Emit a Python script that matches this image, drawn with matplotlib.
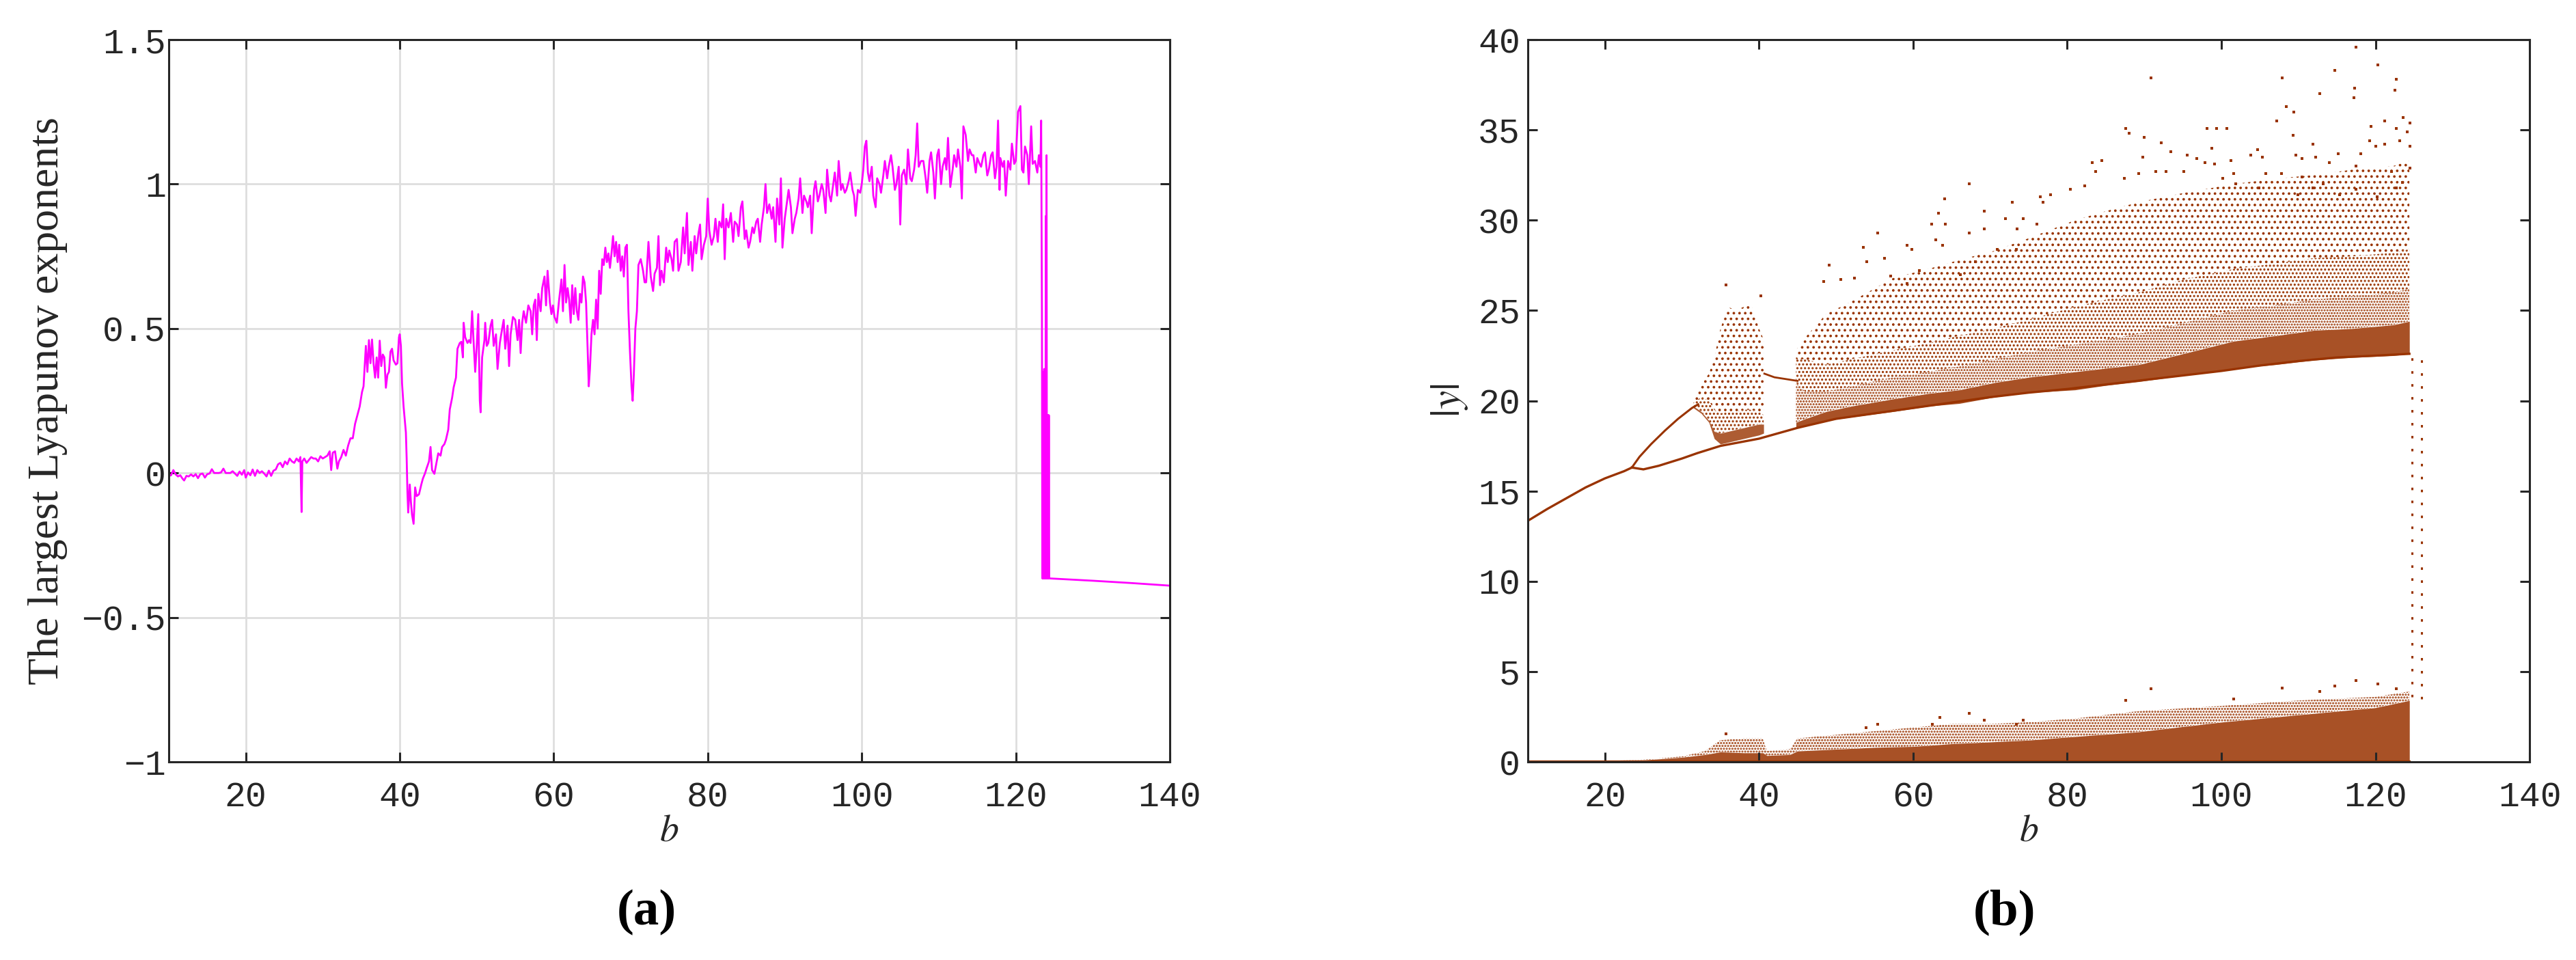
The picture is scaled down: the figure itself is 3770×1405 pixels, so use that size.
"""
Two-panel figure: (a) largest Lyapunov exponent vs b, (b) bifurcation diagram |y| vs b.
Values read off the reference picture by eye.
"""
import numpy as np
import matplotlib
matplotlib.use("Agg")
import matplotlib.pyplot as plt

MAGENTA = '#ff00ff'
BROWN = '#993300'
SPINE = '#262626'
GRID = '#dedede'

# ---------------------------------------------------------------------------
# (a) largest Lyapunov exponent
# ---------------------------------------------------------------------------
lyap_b = [
    10.0, 10.3, 10.6, 10.9, 11.2, 11.5, 11.8, 12.0, 12.3, 12.6,
    12.9, 13.2, 13.5, 13.8, 14.1, 14.4, 14.7, 15.0, 15.3, 15.6,
    15.9, 16.2, 16.5, 16.8, 17.1, 17.4, 17.7, 18.0, 18.3, 18.6,
    18.9, 19.2, 19.5, 19.8, 20.0, 20.3, 20.6, 20.9, 21.2, 21.5,
    21.8, 22.1, 22.4, 22.7, 23.0, 23.3, 23.6, 23.9, 24.2, 24.5,
    24.8, 25.1, 25.4, 25.7, 26.0, 26.3, 26.6, 26.9, 27.1, 27.25,
    27.35, 27.6, 27.9, 28.2, 28.5, 28.8, 29.1, 29.4, 29.7, 30.0,
    30.3, 30.6, 30.9, 31.1, 31.3, 31.6, 31.9, 32.1, 32.4, 32.7,
    33.0, 33.3, 33.6, 33.9, 34.2, 34.5, 34.8, 35.1, 35.3, 35.6,
    35.8, 36.0, 36.2, 36.4, 36.6, 36.8, 37.0, 37.2, 37.4, 37.6,
    37.8, 38.0, 38.2, 38.4, 38.6, 38.8, 39.0, 39.2, 39.5, 39.7,
    39.9, 40.0, 40.15, 40.3, 40.5, 40.8, 40.9, 41.0, 41.1, 41.3,
    41.45, 41.6, 41.8, 42.0, 42.2, 42.5, 42.8, 43.0, 43.3, 43.5,
    43.8, 44.0, 44.2, 44.5, 44.8, 45.0, 45.3, 45.5, 45.8, 46.0,
    46.3, 46.5, 46.8, 47.0, 47.3, 47.5, 47.8, 48.0, 48.2, 48.3,
    48.5, 48.8, 49.0, 49.2, 49.4, 49.6, 49.8, 50.0, 50.2, 50.4,
    50.5, 50.7, 51.0, 51.1, 51.3, 51.5, 51.8, 52.0, 52.2, 52.5,
    52.7, 53.0, 53.3, 53.5, 53.7, 54.0, 54.2, 54.4, 54.7, 55.0,
    55.3, 55.5, 55.7, 55.9, 56.1, 56.4, 56.7, 57.0, 57.2, 57.4,
    57.6, 57.8, 58.0, 58.3, 58.5, 58.8, 59.0, 59.2, 59.5, 59.7,
    59.9, 60.1, 60.4, 60.7, 61.0, 61.2, 61.4, 61.6, 61.8, 62.0,
    62.2, 62.4, 62.6, 62.8, 63.0, 63.2, 63.4, 63.6, 63.8, 64.0,
    64.2, 64.4, 64.55, 64.7, 64.9, 65.1, 65.3, 65.5, 65.7, 65.9,
    66.1, 66.3, 66.5, 66.7, 66.9, 67.1, 67.3, 67.5, 67.7, 67.9,
    68.1, 68.3, 68.5, 68.7, 68.9, 69.1, 69.3, 69.5, 69.7, 69.9,
    70.1, 70.25, 70.4, 70.6, 70.8, 71.0, 71.3, 71.6, 71.8, 72.0,
    72.3, 72.6, 72.9, 73.1, 73.4, 73.6, 73.8, 74.0, 74.3, 74.6,
    74.8, 75.0, 75.3, 75.5, 75.7, 76.0, 76.2, 76.5, 76.8, 77.0,
    77.3, 77.5, 77.8, 78.0, 78.3, 78.5, 78.8, 79.0, 79.2, 79.5,
    79.8, 80.0, 80.2, 80.5, 80.8, 81.0, 81.3, 81.5, 81.8, 82.0,
    82.2, 82.4, 82.7, 83.0, 83.3, 83.5, 83.8, 84.0, 84.3, 84.5,
    84.8, 85.0, 85.3, 85.5, 85.8, 86.0, 86.3, 86.5, 86.8, 87.0,
    87.3, 87.5, 87.7, 88.0, 88.3, 88.5, 88.8, 89.0, 89.3, 89.5,
    89.7, 90.0, 90.3, 90.5, 90.8, 91.0, 91.3, 91.5, 91.8, 92.0,
    92.3, 92.5, 92.8, 93.0, 93.3, 93.5, 93.8, 94.0, 94.3, 94.5,
    94.8, 95.0, 95.3, 95.5, 95.8, 96.0, 96.3, 96.5, 96.8, 97.0,
    97.3, 97.5, 97.8, 98.0, 98.3, 98.5, 98.8, 99.0, 99.2, 99.5,
    99.8, 100.0, 100.2, 100.4, 100.6, 100.8, 101.0, 101.3, 101.5, 101.8,
    102.0, 102.3, 102.5, 102.8, 103.0, 103.3, 103.5, 103.8, 104.0, 104.3,
    104.5, 104.8, 105.0, 105.2, 105.5, 105.8, 106.0, 106.3, 106.5, 106.8,
    107.0, 107.2, 107.4, 107.7, 108.0, 108.3, 108.5, 108.8, 109.0, 109.3,
    109.5, 109.8, 110.0, 110.3, 110.5, 110.8, 111.0, 111.2, 111.5, 111.8,
    112.0, 112.3, 112.5, 112.8, 113.0, 113.2, 113.5, 113.8, 114.0, 114.3,
    114.5, 114.8, 115.0, 115.3, 115.5, 115.8, 116.0, 116.3, 116.5, 116.8,
    117.0, 117.3, 117.5, 117.7, 117.9, 118.0, 118.3, 118.5, 118.7, 119.0,
    119.3, 119.5, 119.8, 120.0, 120.3, 120.6, 120.8, 121.0, 121.2, 121.5,
    121.7, 122.0, 122.2, 122.5, 122.8, 123.0, 123.2, 123.3, 123.4, 123.45,
    123.5, 123.55, 123.6, 123.65, 123.7, 123.75, 123.8, 123.85, 123.9, 123.95,
    124.0, 124.05, 124.1, 124.15, 124.2, 124.25, 124.3, 124.35, 124.4, 130.0,
    135.0, 140.0,
]
lyap_val = [
    -0.010, -0.008, 0.010, -0.005, -0.012, -0.008, -0.020, -0.026, -0.010, -0.012,
    -0.005, -0.012, -0.004, -0.018, -0.004, -0.002, -0.016, -0.004, -0.002, 0.013,
    0.000, 0.000, 0.000, 0.002, 0.015, 0.000, 0.000, 0.000, 0.006, -0.002,
    -0.010, 0.005, -0.006, 0.010, -0.016, 0.002, -0.008, 0.012, -0.010, 0.010,
    0.000, 0.006, -0.002, -0.012, 0.008, -0.010, 0.008, 0.012, 0.030, 0.035,
    0.020, 0.040, 0.030, 0.050, 0.040, 0.035, 0.050, 0.040, 0.055, -0.135,
    0.040, 0.050, 0.035, 0.045, 0.055, 0.050, 0.050, 0.040, 0.058, 0.050,
    0.055, 0.060, 0.075, 0.010, 0.070, 0.075, 0.015, 0.040, 0.055, 0.080,
    0.060, 0.095, 0.120, 0.120, 0.170, 0.200, 0.230, 0.280, 0.300, 0.440,
    0.350, 0.460, 0.380, 0.462, 0.380, 0.330, 0.400, 0.330, 0.458, 0.370,
    0.410, 0.400, 0.295, 0.340, 0.350, 0.420, 0.430, 0.390, 0.375, 0.380,
    0.470, 0.480, 0.440, 0.310, 0.230, 0.140, 0.050, -0.066, -0.137, -0.040,
    -0.100, -0.145, -0.176, -0.050, -0.080, -0.074, -0.040, -0.020, 0.000, 0.017,
    0.040, 0.090, 0.010, -0.003, 0.040, 0.068, 0.060, 0.090, 0.100, 0.115,
    0.150, 0.220, 0.260, 0.296, 0.330, 0.430, 0.450, 0.454, 0.400, 0.520,
    0.470, 0.450, 0.460, 0.450, 0.560, 0.450, 0.350, 0.440, 0.550, 0.250,
    0.210, 0.400, 0.460, 0.520, 0.440, 0.450, 0.510, 0.530, 0.440, 0.480,
    0.360, 0.450, 0.500, 0.530, 0.430, 0.510, 0.370, 0.480, 0.540, 0.530,
    0.460, 0.530, 0.415, 0.520, 0.560, 0.520, 0.580, 0.560, 0.480, 0.580,
    0.600, 0.460, 0.620, 0.560, 0.640, 0.680, 0.580, 0.700, 0.590, 0.550,
    0.580, 0.540, 0.520, 0.600, 0.670, 0.560, 0.720, 0.590, 0.640, 0.600,
    0.520, 0.650, 0.550, 0.640, 0.560, 0.530, 0.620, 0.590, 0.680, 0.660,
    0.590, 0.430, 0.300, 0.360, 0.480, 0.530, 0.480, 0.600, 0.500, 0.700,
    0.620, 0.740, 0.720, 0.780, 0.730, 0.760, 0.710, 0.760, 0.820, 0.750,
    0.800, 0.730, 0.790, 0.700, 0.750, 0.680, 0.780, 0.790, 0.560, 0.420,
    0.300, 0.250, 0.340, 0.500, 0.560, 0.720, 0.740, 0.700, 0.660, 0.660,
    0.800, 0.680, 0.630, 0.690, 0.710, 0.820, 0.650, 0.700, 0.660, 0.780,
    0.730, 0.770, 0.740, 0.700, 0.800, 0.810, 0.700, 0.730, 0.850, 0.760,
    0.900, 0.720, 0.800, 0.700, 0.820, 0.760, 0.830, 0.860, 0.740, 0.790,
    0.820, 0.950, 0.840, 0.790, 0.820, 0.880, 0.800, 0.870, 0.850, 0.930,
    0.740, 0.880, 0.850, 0.900, 0.800, 0.870, 0.860, 0.820, 0.920, 0.940,
    0.810, 0.840, 0.780, 0.800, 0.850, 0.830, 0.870, 0.880, 0.800, 0.860,
    0.920, 1.000, 0.900, 0.930, 0.880, 0.920, 0.800, 0.950, 0.860, 1.020,
    0.780, 0.880, 0.940, 0.980, 0.920, 0.830, 0.880, 0.900, 0.950, 1.020,
    0.900, 0.960, 0.940, 0.920, 0.960, 0.830, 0.980, 1.010, 0.940, 0.960,
    1.000, 0.980, 0.900, 1.050, 0.960, 0.940, 1.000, 1.040, 0.960, 1.080,
    0.980, 1.000, 0.970, 0.980, 1.010, 1.040, 0.980, 0.960, 0.890, 0.980,
    0.970, 1.000, 1.050, 1.130, 1.150, 1.040, 1.010, 1.060, 0.960, 0.920,
    1.020, 1.000, 0.970, 1.030, 1.080, 1.020, 1.060, 1.100, 1.060, 0.980,
    1.000, 1.060, 0.860, 1.030, 1.050, 1.000, 1.120, 1.020, 1.010, 1.050,
    1.100, 1.210, 1.060, 1.080, 1.080, 1.020, 0.970, 1.080, 1.110, 1.040,
    0.950, 1.100, 1.120, 1.000, 1.060, 1.090, 1.050, 1.160, 0.990, 1.050,
    1.100, 1.060, 1.120, 1.060, 0.950, 1.200, 1.170, 1.080, 1.120, 1.100,
    1.100, 1.040, 1.090, 1.070, 1.060, 1.100, 1.110, 1.030, 1.050, 1.100,
    1.110, 1.020, 1.060, 1.220, 0.980, 1.090, 1.060, 1.080, 0.960, 1.080,
    1.050, 1.140, 1.070, 1.080, 1.250, 1.270, 1.050, 1.040, 1.130, 1.100,
    1.000, 1.200, 1.070, 1.080, 1.040, 1.100, 1.060, 1.220, 0.550, -0.365,
    0.350, -0.365, 0.330, -0.365, 0.360, -0.365, 0.300, -0.365, 0.890, -0.365,
    1.100, -0.365, 0.200, -0.365, 0.200, -0.365, 0.200, -0.365, -0.365, -0.373,
    -0.381, -0.390,
]

lyap_yticks = [-1, -0.5, 0, 0.5, 1, 1.5]
lyap_yticklabels = ['\u22121', '\u22120.5', '0', '0.5', '1', '1.5']
b_ticks = [20, 40, 60, 80, 100, 120, 140]

# ---------------------------------------------------------------------------
# (b) bifurcation diagram, |y|
# ---------------------------------------------------------------------------
# single branch before the first split, then the two branches
main_b = [10, 12.5, 15, 17.5, 20, 22.5, 23.5]
main_y = [13.35, 14.0, 14.6, 15.2, 15.7, 16.1, 16.3]
upper_b = [23.5, 24.5, 26, 27.8, 29.5, 31.3, 32.1]
upper_y = [16.3, 16.9, 17.6, 18.35, 19.0, 19.6, 19.8]
branch_b = [23.5, 25, 27, 30, 32, 35, 40, 45, 50, 55, 60, 65, 70, 75, 80,
            85, 90, 95, 100, 105, 110, 115, 120, 124.4]
branch_y = [16.3, 16.2, 16.4, 16.8, 17.1, 17.5, 17.9, 18.5, 19.0, 19.3, 19.6,
            19.9, 20.2, 20.45, 20.65, 20.9, 21.15, 21.4, 21.65, 21.95, 22.2,
            22.4, 22.5, 22.6]
# short period window between the two chaotic clouds
window_b = [40.7, 42, 43.5, 45]
window_y = [21.5, 21.3, 21.2, 21.1]

# first chaotic cloud: lower edge, dense part, medium part, top
cloud1_b = [31.5, 32.5, 33.5, 34.2, 35.0, 36.0, 37.0, 38.0, 39.0, 40.0, 40.6]
cloud1_lo = [19.6, 19.3, 18.8, 17.9, 17.6, 17.7, 17.8, 17.9, 18.0, 18.1, 18.2]
cloud1_dense = [19.7, 19.4, 18.9, 18.3, 18.2, 18.3, 18.4, 18.5, 18.6, 18.7, 18.7]
cloud1_med = [19.9, 20.2, 20.0, 19.5, 19.3, 19.4, 19.4, 19.5, 19.5, 19.4, 19.2]
cloud1_top = [20.0, 20.9, 21.5, 22.4, 24.0, 25.2, 25.0, 25.2, 25.3, 24.0, 23.4]

# main chaotic cloud, four density bands stacked above the lower edge
cloud2_b = [44.8, 46, 48.7, 52, 57.4, 62, 66, 70.5, 75, 81, 85, 89.3, 95,
            101.6, 107, 112, 117, 122.3, 124.4]
cloud2_lo = [18.5, 18.6, 18.9, 19.1, 19.4, 19.7, 19.85, 20.2, 20.45, 20.6,
             20.85, 21.06, 21.4, 21.8, 22.0, 22.25, 22.4, 22.5, 22.6]
cloud2_dense = [18.8, 19.0, 19.4, 19.7, 20.1, 20.4, 20.6, 21.0, 21.3, 21.6,
                21.8, 22.0, 22.6, 23.3, 23.6, 23.9, 24.0, 24.2, 24.4]
cloud2_mid1 = [21.0, 20.5, 20.5, 20.8, 21.3, 21.6, 21.9, 22.3, 22.7, 23.1,
               23.4, 23.7, 24.3, 25.0, 25.3, 25.6, 25.8, 26.0, 26.2]
cloud2_mid2 = [22.3, 22.3, 22.0, 22.3, 22.8, 23.2, 23.6, 24.0, 24.5, 25.2,
               25.6, 26.0, 26.7, 27.3, 27.6, 27.9, 28.0, 28.2, 28.4]
cloud2_top = [22.8, 23.5, 24.8, 25.5, 26.8, 27.3, 27.8, 28.3, 29.0, 30.0,
              30.5, 31.0, 31.5, 32.0, 32.3, 32.5, 32.8, 33.0, 33.3]

# band near |y| = 0
low_b = [10, 20, 25, 30, 33, 35, 38, 40.5, 41, 44, 45, 50, 55, 60, 65, 70,
         75, 81, 89, 100, 110, 120, 124.4]
low_dense = [0.03, 0.05, 0.1, 0.25, 0.4, 0.55, 0.5, 0.5, 0.35, 0.4, 0.6,
             0.7, 0.8, 0.85, 1.0, 1.1, 1.2, 1.4, 1.65, 2.2, 2.6, 3.0, 3.4]
low_med = [0.03, 0.05, 0.12, 0.3, 0.6, 1.2, 1.3, 1.3, 0.6, 0.7, 1.3, 1.5,
           1.7, 1.9, 2.1, 2.1, 2.2, 2.4, 2.8, 3.1, 3.4, 3.6, 3.9]

# isolated points
stray_b = [
    90.9, 107.9, 117.5, 120.3, 114.7, 122.7, 122.5, 117.3, 117.2, 112.8,
    108.4, 109.4, 107.2, 87.6, 88.0, 90.0, 98.1, 99.4, 100.7, 121.2,
    119.4, 123.6, 124.5, 122.7, 124.1, 109.3, 111.9, 119.2, 121.2, 123.1,
    124.5, 98.8, 103.8, 104.7, 105.3, 89.8, 92.2, 93.4, 95.6, 109.7,
    110.5, 112.2, 115.2, 118.1, 120.0, 83.2, 84.5, 83.7, 96.8, 97.9,
    99.1, 101.2, 101.6, 107.8, 82.3, 80.4, 76.9, 77.8, 87.4, 89.3,
    91.5, 92.8, 95.1, 105.8, 110.5, 114.0, 117.5, 124.5, 122.7, 123.5,
    122.1, 120.2, 117.5, 115.3, 113.2, 111.9, 109.9, 104.9, 101.9, 100.2,
    67.3, 64.1, 69.2, 63.3, 62.4, 64.2, 55.4, 59.2, 59.8, 53.5,
    54.0, 56.3, 62.9, 63.8, 72.0, 74.3, 72.9, 76.5, 76.1, 73.5,
    67.3, 69.2, 57.1, 60.8, 59.2, 49.1, 50.6, 52.4, 48.4, 35.7,
    40.2, 66.1, 68.1, 70.9, 73.4,
    90.9, 107.9, 117.5, 120.3, 114.7, 122.7, 112.8, 101.6, 87.6, 67.3,
    69.2, 63.5, 55.4, 53.9, 62.5, 35.7, 73.4, 74.3,
]
stray_y = [
    37.9, 37.9, 39.6, 38.6, 38.3, 37.8, 37.2, 37.3, 36.8, 37.0,
    36.3, 36.0, 35.5, 35.1, 34.8, 34.6, 35.1, 35.1, 35.1, 35.5,
    35.2, 35.7, 35.4, 35.1, 34.9, 34.7, 34.2, 34.4, 34.2, 34.4,
    34.1, 34.0, 33.6, 33.9, 33.5, 33.5, 34.3, 33.8, 33.6, 33.6,
    33.4, 33.5, 33.7, 33.7, 34.1, 33.2, 33.3, 32.7, 33.4, 33.2,
    33.1, 33.3, 32.6, 32.6, 31.9, 31.7, 31.0, 31.4, 32.3, 32.6,
    32.7, 32.7, 32.7, 32.6, 32.4, 33.2, 33.0, 32.9, 31.8, 32.1,
    32.7, 31.3, 31.7, 31.4, 32.0, 31.8, 31.4, 31.8, 32.0, 32.3,
    32.0, 31.2, 30.5, 30.4, 29.8, 29.8, 29.3, 28.6, 28.4, 28.5,
    27.7, 27.9, 28.9, 28.6, 30.1, 30.1, 31.0, 31.3, 29.8, 29.5,
    29.3, 29.5, 26.9, 27.2, 26.5, 27.5, 26.7, 26.8, 26.6, 26.4,
    25.8, 27.0, 27.7, 28.4, 28.4,
    4.06, 4.1, 4.5, 4.3, 4.2, 4.06, 3.9, 3.5, 3.4, 2.7,
    2.3, 2.45, 2.07, 1.9, 2.1, 1.55, 2.1, 2.3,
]

# dotted columns right after the crisis
column_b = [124.7, 126.0]
column_lo = [3.6, 3.5]
column_hi = [22.6, 22.5]

bif_yticks = [0, 5, 10, 15, 20, 25, 30, 35, 40]


def style_axes(ax, ylabel, label_x):
    for side in ax.spines.values():
        side.set_color(SPINE)
        side.set_linewidth(2.2)
    ax.tick_params(direction='in', length=10, width=2.2, colors=SPINE,
                   top=True, right=True, labelsize=37)
    ax.tick_params(axis='x', pad=20)
    for lab in ax.get_xticklabels() + ax.get_yticklabels():
        lab.set_family('Liberation Mono')
        lab.set_color(SPINE)
    ax.set_xlabel('$b$', fontsize=40, color=SPINE)
    ax.xaxis.set_label_coords(0.5, -0.095)
    ax.xaxis.label.set_va('center')
    ax.set_ylabel(ylabel, color=SPINE)
    ax.yaxis.set_label_coords(label_x, 0.5)
    ax.yaxis.label.set_va('center')


def dotted_band(ax, x, lo, hi, pattern):
    ax.fill_between(x, lo, hi, facecolor='none', edgecolor=BROWN,
                    hatch=pattern, linewidth=0)


def main():
    plt.rcParams['mathtext.fontset'] = 'stix'
    plt.rcParams['hatch.linewidth'] = 1.5

    fig = plt.figure(figsize=(37.7, 14.05), dpi=100)
    ax1 = fig.add_axes([0.0655, 0.2064, 0.3886, 0.7523])
    ax2 = fig.add_axes([0.5931, 0.2064, 0.3889, 0.7523])

    # ---- (a) ----
    ax1.grid(True, color=GRID, linewidth=2.0)
    ax1.set_axisbelow(True)
    ax1.plot(lyap_b, lyap_val, color=MAGENTA, linewidth=2.0)
    ax1.set_xlim(10, 140)
    ax1.set_ylim(-1, 1.5)
    ax1.set_xticks(b_ticks)
    ax1.set_xticklabels([str(t) for t in b_ticks])
    ax1.set_yticks(lyap_yticks)
    ax1.set_yticklabels(lyap_yticklabels)
    ax1.tick_params(axis='y', pad=3)
    style_axes(ax1, 'The largest Lyapunov exponents', -0.121)
    ax1.yaxis.label.set_family('Liberation Serif')
    ax1.yaxis.label.set_fontsize(46)

    # ---- (b) ----
    # dense cores
    ax2.fill_between(cloud1_b, cloud1_lo, cloud1_dense, color=BROWN,
                     alpha=0.8, linewidth=0)
    ax2.fill_between(cloud2_b, cloud2_lo, cloud2_dense, color=BROWN,
                     alpha=0.85, linewidth=0)
    ax2.fill_between(low_b, 0, low_dense, color=BROWN, alpha=0.85, linewidth=0)
    # thinning dot bands
    dotted_band(ax2, cloud1_b, cloud1_dense, cloud1_med, '...')
    dotted_band(ax2, cloud1_b, cloud1_med, cloud1_top, '..')
    dotted_band(ax2, cloud2_b, cloud2_dense, cloud2_mid1, '....')
    dotted_band(ax2, cloud2_b, cloud2_mid1, cloud2_mid2, '...')
    dotted_band(ax2, cloud2_b, cloud2_mid2, cloud2_top, '..')
    dotted_band(ax2, low_b, low_dense, low_med, '....')

    ax2.plot(main_b, main_y, color=BROWN, linewidth=2.4)
    ax2.plot(upper_b, upper_y, color=BROWN, linewidth=2.2)
    ax2.plot(branch_b, branch_y, color=BROWN, linewidth=2.4)
    ax2.plot(window_b, window_y, color=BROWN, linewidth=2.0)
    ax2.plot([low_b[0], low_b[-1]], [0, 0], color=BROWN, linewidth=3.0)
    ax2.plot(stray_b, stray_y, 's', color=BROWN, markersize=2.6, mew=0)
    ax2.vlines(column_b, column_lo, column_hi, colors=BROWN, linewidth=2.2,
               linestyles=[(0, (1.2, 5))])

    ax2.set_xlim(10, 140)
    ax2.set_ylim(0, 40)
    ax2.set_xticks(b_ticks)
    ax2.set_xticklabels([str(t) for t in b_ticks])
    ax2.set_yticks(bif_yticks)
    ax2.set_yticklabels([str(t) for t in bif_yticks])
    ax2.tick_params(axis='y', pad=8)
    style_axes(ax2, '$|y|$', -0.078)
    ax2.yaxis.label.set_fontsize(44)

    fig.text(0.2509, 0.0498, '(a)', ha='center', va='center', fontsize=54,
             fontweight='bold', family='Liberation Serif')
    fig.text(0.7782, 0.0498, '(b)', ha='center', va='center', fontsize=54,
             fontweight='bold', family='Liberation Serif')

    fig.savefig('out.png', dpi=100, facecolor='white')
    plt.close(fig)


if __name__ == "__main__":
    main()
